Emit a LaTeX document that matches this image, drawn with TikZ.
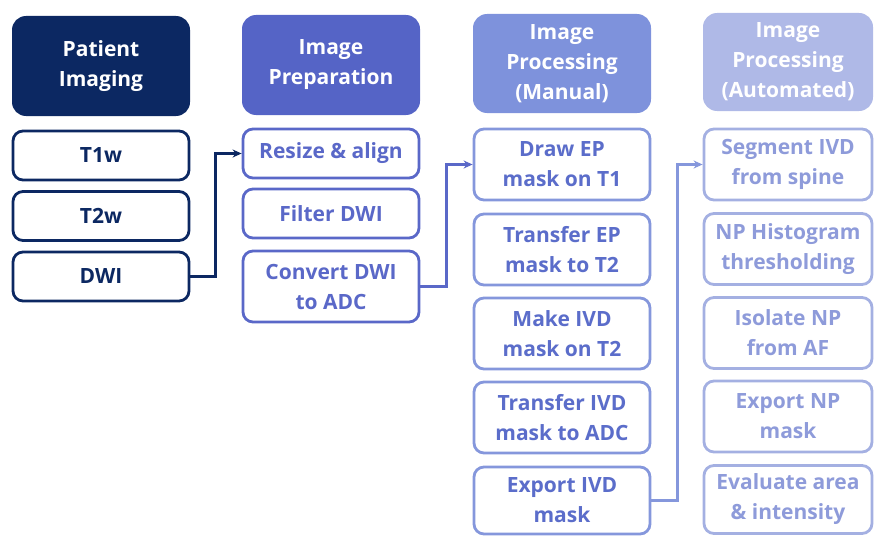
\documentclass[tikz,border=0pt]{standalone}
\usepackage{fontspec}
\setmainfont{Open Sans}
\usetikzlibrary{arrows.meta}
\definecolor{cA}{HTML}{0C2862}
\definecolor{cB}{HTML}{5564C6}
\definecolor{cBt}{HTML}{5A68C8}
\definecolor{cC}{HTML}{7E92DC}
\definecolor{cCb}{HTML}{8597DC}
\definecolor{cCt}{HTML}{5B6DCA}
\definecolor{cD}{HTML}{AFB9E7}
\definecolor{cDb}{HTML}{A4B0E2}
\definecolor{cDt}{HTML}{8E9BDA}
\tikzset{
  hdr/.style={rounded corners=14pt, align=center, text=white, font=\fontsize{21}{30}\selectfont\bfseries, inner sep=0pt},
  box/.style={rounded corners=10pt, draw, line width=2.8pt, fill=white, align=center, font=\fontsize{21}{30}\selectfont\bfseries, inner sep=0pt},
  conn/.style={line width=2.6pt, -{Stealth[length=9pt,width=8pt]}},
}
\begin{document}
\begin{tikzpicture}[x=1pt,y=-1pt]
\useasboundingbox (0,0) rectangle (874,535);
% column 1
\node[hdr, fill=cA, minimum width=178pt, minimum height=100pt] (h1) at (101,66) {Patient\\Imaging};
\node[box, draw=cA, text=cA, minimum width=176pt, minimum height=49pt] (t1) at (101,155.5) {T1w};
\node[box, draw=cA, text=cA, minimum width=176pt, minimum height=49pt] (t2) at (101,216) {T2w};
\node[box, draw=cA, text=cA, minimum width=176pt, minimum height=49pt] (dwi) at (101,276.5) {DWI};
% column 2
\node[hdr, fill=cB, minimum width=178pt, minimum height=100pt] (h2) at (331,65) {Image\\Preparation};
\node[box, draw=cBt, text=cBt, minimum width=176pt, minimum height=49pt] (rs) at (331,153.5) {Resize \& align};
\node[box, draw=cBt, text=cBt, minimum width=176pt, minimum height=49pt] (fd) at (331,213.5) {Filter DWI};
\node[box, draw=cBt, text=cBt, minimum width=176pt, minimum height=71pt] (cv) at (331,286.5) {Convert DWI\\to ADC};
% column 3
\node[hdr, fill=cC, minimum width=178pt, minimum height=99pt] (h3) at (562,63.5) {Image\\Processing\\(Manual)};
\node[box, draw=cCb, text=cCt, minimum width=176pt, minimum height=71pt] (m1) at (562,164.5) {Draw EP\\mask on T1};
\node[box, draw=cCb, text=cCt, minimum width=176pt, minimum height=71pt] (m2) at (562,249.5) {Transfer EP\\mask to T2};
\node[box, draw=cCb, text=cCt, minimum width=176pt, minimum height=71pt] (m3) at (562,333.5) {Make IVD\\mask on T2};
\node[box, draw=cCb, text=cCt, minimum width=176pt, minimum height=71pt] (m4) at (562,417.5) {Transfer IVD\\mask to ADC};
\node[box, draw=cCb, text=cCt, minimum width=176pt, minimum height=67pt] (m5) at (562,500.5) {Export IVD\\mask};
% column 4
\node[hdr, fill=cD, minimum width=170pt, minimum height=98pt] (h4) at (788,62) {Image\\Processing\\(Automated)};
\node[box, draw=cDb, text=cDt, minimum width=168pt, minimum height=71pt] (a1) at (788,164.5) {Segment IVD\\from spine};
\node[box, draw=cDb, text=cDt, minimum width=168pt, minimum height=71pt] (a2) at (788,249) {NP Histogram\\thresholding};
\node[box, draw=cDb, text=cDt, minimum width=168pt, minimum height=71pt] (a3) at (788,333) {Isolate NP\\from AF};
\node[box, draw=cDb, text=cDt, minimum width=168pt, minimum height=71pt] (a4) at (788,416.5) {Export NP\\mask};
\node[box, draw=cDb, text=cDt, minimum width=168pt, minimum height=68pt] (a5) at (788,499.5) {Evaluate area\\\& intensity};
% connectors
\draw[conn, draw=cA] (dwi.east) -- ++(25,0) |- (rs.west);
\draw[conn, draw=cBt] (cv.east) -- ++(26,0) |- (m1.west);
\draw[conn, draw=cCb] (m5.east) -- ++(26,0) |- (a1.west);
\end{tikzpicture}
\end{document}
